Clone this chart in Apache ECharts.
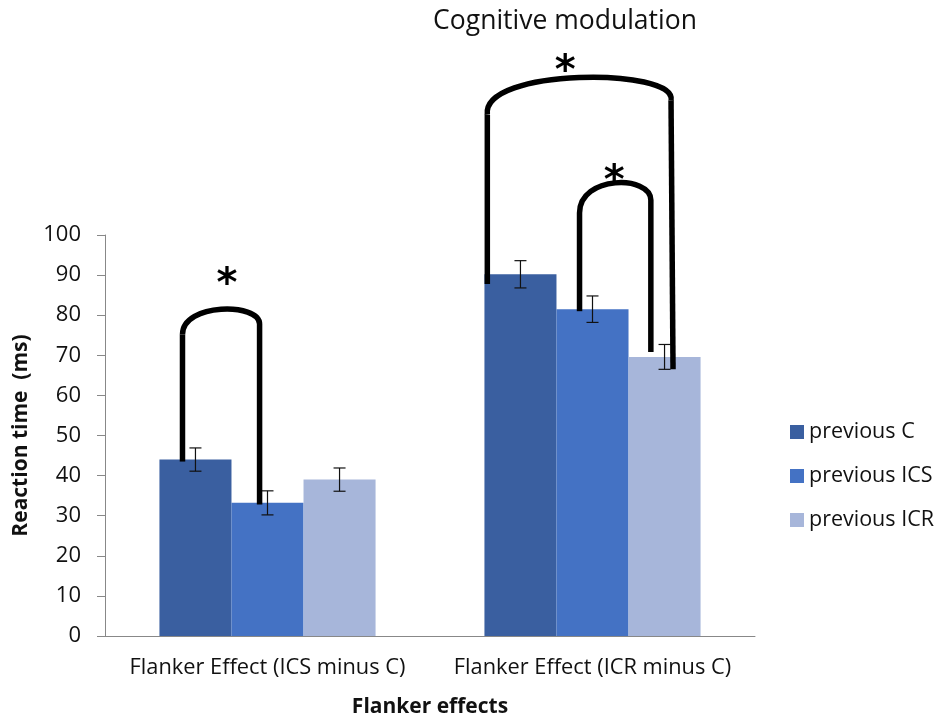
<!DOCTYPE html>
<html><head><meta charset="utf-8">
<script src="https://cdn.jsdelivr.net/npm/echarts@6/dist/echarts.min.js"></script>
<style>html,body{margin:0;padding:0;background:#fff}#c{width:936px;height:723px}</style>
</head><body><div id="c"></div>
<script>
const categories = ['Flanker Effect (ICS minus C)', 'Flanker Effect (ICR minus C)'];
const seriesNames = ['previous C', 'previous ICS', 'previous ICR'];
const prevC = [44, 90.2];
const prevICS = [33.2, 81.5];
const prevICR = [39, 69.6];
const errC = [2.9, 3.4];
const errICS = [3.0, 3.3];
const errICR = [2.9, 3.1];
const yTicks = {min: 0, max: 100, interval: 10};
// significance brackets: category, left bar, right bar, left leg bottom, left leg top, peak, right leg top, right leg bottom
const bracketCat = [0, 1, 1];
const bracketLeftBar = [0, 0, 1];
const bracketRightBar = [1, 2, 2];
const bracketLeftBottom = [43.5, 87.8, 81.0];
const bracketLeftTop = [75.2, 130, 105.5];
const bracketPeak = [81.5, 139.3, 113.0];
const bracketRightTop = [77.8, 133.6, 108.7];
const bracketRightBottom = [32.8, 66.5, 70.8];
const bracketStarValue = [87.3, 140.5, 113.0];

const colors = ['#3A5FA0', '#4472C4', '#A7B6DA'];
const GAP = 0.335;
const FONT = '"Open Sans", "Noto Sans", sans-serif';
const values = [prevC, prevICS, prevICR];
const errs = [errC, errICS, errICR];

function barGeom(api) {
  const band = api.size([1, 0])[0];
  return band * (1 - GAP) / 3;
}

const barSeries = seriesNames.map((n, i) => ({
  name: n, type: 'bar', data: values[i], barGap: '0%', barCategoryGap: (GAP * 100) + '%',
  itemStyle: {color: colors[i]}, z: 2
}));

const errSeries = seriesNames.map((n, i) => ({
  type: 'custom', name: n + ' err', z: 3, silent: true,
  data: values[i].map((v, j) => [j, v - errs[i][j], v + errs[i][j]]),
  renderItem: function (params, api) {
    const bw = barGeom(api);
    const c = api.coord([api.value(0), api.value(1)]);
    const h = api.coord([api.value(0), api.value(2)]);
    const x = c[0] + (i - 1) * bw;
    const cap = 6;
    const st = {stroke: '#111', lineWidth: 1.2};
    return {type: 'group', children: [
      {type: 'line', shape: {x1: x, y1: c[1], x2: x, y2: h[1]}, style: st},
      {type: 'line', shape: {x1: x - cap, y1: c[1], x2: x + cap, y2: c[1]}, style: st},
      {type: 'line', shape: {x1: x - cap, y1: h[1], x2: x + cap, y2: h[1]}, style: st}
    ]};
  }
}));

const bracketSeries = {
  type: 'custom', name: 'brackets', z: 5, silent: true, clip: false,
  data: bracketCat.map((c, k) => [c, bracketPeak[k]]),
  renderItem: function (params, api) {
    const k = params.dataIndex;
    const bw = barGeom(api);
    const cat = bracketCat[k];
    const cx = api.coord([cat, 0])[0];
    const legOff = [[-0.18, -0.11], [-0.46, 0.09], [-0.18, -0.19]][k];
    const xl = cx + (bracketLeftBar[k] - 1) * bw + legOff[0] * bw;
    const xr = cx + (bracketRightBar[k] - 1) * bw + legOff[1] * bw;
    const y = v => api.coord([cat, v])[1];
    const yLB = y(bracketLeftBottom[k]), yLT = y(bracketLeftTop[k]);
    const yP = y(bracketPeak[k]);
    const yRT = y(bracketRightTop[k]), yRB = y(bracketRightBottom[k]);
    const cpy = (yP - 0.125 * (yLT + yRT)) / 0.75;
    const flare = k === 1 ? 6 : 0;
    const st = {stroke: '#000', lineWidth: 5.5, fill: null, lineCap: 'butt'};
    const starX = k === 1 ? (xl + xr) / 2 - 14 : (k === 0 ? (xl + xr) / 2 + 6 : (xl + xr) / 2 - 1);
    return {type: 'group', children: [
      {type: 'line', shape: {x1: xl, y1: yLB, x2: xl, y2: yLT}, style: st},
      {type: 'bezierCurve', shape: {x1: xl, y1: yLT, cpx1: xl - flare, cpy1: cpy, cpx2: xr + flare, cpy2: cpy, x2: xr, y2: yRT}, style: st},
      {type: 'line', shape: {x1: xr, y1: yRT, x2: xr + (k === 1 ? 2 : 0), y2: yRB}, style: st},
      {type: 'text', x: starX, y: y(bracketStarValue[k]), style: {text: '*', font: 'bold 40px "DejaVu Sans", sans-serif', fill: '#000', align: 'center', verticalAlign: 'middle'}}
    ]};
  }
};

const chart = echarts.init(document.getElementById('c'));
chart.setOption({
  animation: false,
  backgroundColor: '#fff',
  title: {text: 'Cognitive modulation', left: 560, top: 3, textAlign: 'center',
    textStyle: {fontFamily: FONT, fontSize: 26.5, fontWeight: 'normal', color: '#111'}},
  grid: {left: 105, right: 181, top: 235, bottom: 85},
  legend: {orient: 'vertical', left: 785, top: 416, itemGap: 22, itemWidth: 14, itemHeight: 14, icon: 'rect',
    itemTextGap: 4,
    data: seriesNames, textStyle: {fontFamily: FONT, fontSize: 21.5, lineHeight: 22, color: '#111'}},
  xAxis: {type: 'category', data: categories, name: 'Flanker effects', nameLocation: 'middle', nameGap: 61,
    nameTextStyle: {fontFamily: FONT, fontSize: 21, fontWeight: 'bold', color: '#111'},
    axisLine: {lineStyle: {color: '#888'}}, axisTick: {length: 6, lineStyle: {color: '#888'}},
    axisLabel: {interval: 0, hideOverlap: false, fontFamily: FONT, fontSize: 21.8, color: '#111', margin: 21}},
  yAxis: {type: 'value', min: yTicks.min, max: yTicks.max, interval: yTicks.interval,
    name: 'Reaction time  (ms)', nameLocation: 'middle', nameGap: 73,
    nameTextStyle: {fontFamily: FONT, fontSize: 21, fontWeight: 'bold', color: '#111'},
    axisLine: {show: true, lineStyle: {color: '#888'}}, axisTick: {show: true, length: 8, lineStyle: {color: '#888'}},
    splitLine: {show: false},
    axisLabel: {fontFamily: FONT, fontSize: 22, color: '#111', margin: 24}},
  series: barSeries.concat(errSeries, [bracketSeries])
});
</script></body></html>
